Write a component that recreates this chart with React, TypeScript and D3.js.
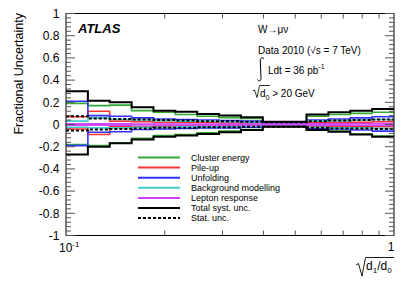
import React from 'react';
import * as d3 from 'd3';

// bin edges in sqrt(d1/d0), 15 log bins
const binEdges = [0.1, 0.1166, 0.1359, 0.1585, 0.1848, 0.2154, 0.2512, 0.2929, 0.3415, 0.3981, 0.4642, 0.5412, 0.631, 0.7356, 0.8577, 1.0];

const clusterUp = [0.19, 0.17, 0.175, 0.125, 0.11, 0.09, 0.075, 0.062, 0.055, 0.015, 0.015, 0.075, 0.09, 0.1, 0.11];
const clusterDn = [-0.18, -0.19, -0.165, -0.125, -0.1, -0.09, -0.075, -0.06, -0.045, -0.015, -0.015, -0.045, -0.06, -0.085, -0.105];
const pileupUp = [0.07, 0.12, 0.03, 0.025, 0.02, 0.02, 0.02, 0.015, 0.015, 0.01, 0.01, 0.015, 0.02, 0.02, 0.025];
const pileupDn = [-0.04, -0.09, -0.02, -0.02, -0.015, -0.015, -0.015, -0.01, -0.01, -0.01, -0.01, -0.015, -0.015, -0.02, -0.02];
const unfoldUp = [0.21, 0.08, 0.075, 0.06, 0.05, 0.045, 0.04, 0.035, 0.03, 0.015, 0.015, 0.04, 0.05, 0.06, 0.07];
const unfoldDn = [-0.19, -0.07, -0.065, -0.045, -0.04, -0.035, -0.03, -0.03, -0.025, -0.015, -0.015, -0.035, -0.04, -0.05, -0.06];
const bkgUp = [0.03, 0.06, 0.045, 0.04, 0.035, 0.03, 0.03, 0.025, 0.02, 0.01, 0.01, 0.03, 0.035, 0.04, 0.045];
const bkgDn = [-0.025, -0.03, -0.03, -0.025, -0.025, -0.02, -0.02, -0.02, -0.015, -0.01, -0.01, -0.025, -0.03, -0.03, -0.035];
const lepUp = [0.006, 0.006, 0.006, 0.005, 0.005, 0.005, 0.005, 0.005, 0.005, 0.004, 0.004, 0.006, 0.006, 0.007, 0.008];
const lepDn = [-0.006, -0.006, -0.006, -0.005, -0.005, -0.005, -0.005, -0.005, -0.005, -0.004, -0.004, -0.006, -0.006, -0.007, -0.008];
const totalUp = [0.3, 0.215, 0.2, 0.155, 0.125, 0.115, 0.095, 0.08, 0.065, 0.025, 0.025, 0.09, 0.11, 0.125, 0.14];
const totalDn = [-0.27, -0.2, -0.17, -0.135, -0.11, -0.1, -0.085, -0.07, -0.05, -0.02, -0.02, -0.05, -0.065, -0.09, -0.11];
const statUp = [0.075, 0.055, 0.05, 0.045, 0.04, 0.035, 0.03, 0.03, 0.025, 0.02, 0.02, 0.03, 0.035, 0.04, 0.045];
const statDn = [-0.055, -0.045, -0.04, -0.035, -0.03, -0.03, -0.025, -0.025, -0.02, -0.02, -0.02, -0.03, -0.035, -0.035, -0.04];

const legendLabels = ['Cluster energy', 'Pile-up', 'Unfolding', 'Background modelling', 'Lepton response', 'Total syst. unc.', 'Stat. unc.'];
const yTickValues = [-1, -0.8, -0.6, -0.4, -0.2, 0, 0.2, 0.4, 0.6, 0.8, 1];
const xMinorTicks = [0.2, 0.3, 0.4, 0.5, 0.6, 0.7, 0.8, 0.9];

const font = '"Liberation Sans", Arial, Helvetica, sans-serif';

const styles = [
  { up: clusterUp, dn: clusterDn, color: '#33aa33', width: 1.6, dash: null },
  { up: pileupUp, dn: pileupDn, color: '#ff3333', width: 1.6, dash: null },
  { up: unfoldUp, dn: unfoldDn, color: '#3333ff', width: 1.6, dash: null },
  { up: bkgUp, dn: bkgDn, color: '#44cccc', width: 1.6, dash: null },
  { up: lepUp, dn: lepDn, color: '#d040ff', width: 1.6, dash: null },
  { up: totalUp, dn: totalDn, color: '#000', width: 2, dash: null },
  { up: statUp, dn: statDn, color: '#000', width: 2, dash: '3,2' },
];

const App = () => {
  const width = 415;
  const height = 281;
  const left = 66, right = 394, top = 13.5, bottom = 235.5;

  const x = d3.scaleLog().domain([0.1, 1]).range([left, right]);
  const y = d3.scaleLinear().domain([-1, 1]).range([bottom, top]);

  const step = d3.line<[number, number]>()
    .x(d => x(d[0]))
    .y(d => y(d[1]))
    .curve(d3.curveStepAfter);

  const toPts = (vals: number[]): [number, number][] =>
    binEdges.map((e, i) => [e, vals[Math.min(i, vals.length - 1)]]);

  const yMinor = d3.range(-1, 1.0001, 0.04);

  return (
    <svg width={width} height={height} style={{ position: 'absolute', left: 0, top: 0, background: '#fff' }}
      fontFamily={font}>
      <rect x={0} y={0} width={width} height={height} fill="#fff" />

      {/* histograms */}
      {styles.map((s, i) => (
        <g key={i} fill="none" stroke={s.color} strokeWidth={s.width} strokeDasharray={s.dash || undefined}>
          <path d={step(toPts(s.up)) || ''} />
          <path d={step(toPts(s.dn)) || ''} />
        </g>
      ))}

      {/* frame */}
      <rect x={left} y={top} width={right - left} height={bottom - top} fill="none" stroke="#000" strokeWidth={1} />

      {/* y ticks both sides */}
      <g stroke="#555" strokeWidth={1}>
        {yMinor.map((v, i) => {
          const major = Math.abs(Math.round(v / 0.2) * 0.2 - v) < 1e-6;
          const len = major ? 9 : 5;
          const yy = y(v);
          return (
            <g key={i}>
              <line x1={left} x2={left + len} y1={yy} y2={yy} />
              <line x1={right} x2={right - len} y1={yy} y2={yy} />
            </g>
          );
        })}
        {xMinorTicks.map((v, i) => (
          <g key={i}>
            <line x1={x(v)} x2={x(v)} y1={bottom} y2={bottom - 5} />
            <line x1={x(v)} x2={x(v)} y1={top} y2={top + 5} />
          </g>
        ))}
      </g>

      {/* y tick labels */}
      <g fontSize={12} textAnchor="end" fill="#000">
        {yTickValues.map(v => (
          <text key={v} x={59.5} y={y(v) + 4.3}>{String(v)}</text>
        ))}
      </g>

      {/* x tick labels */}
      <text x={x(0.1) - 7} y={252} fontSize={12}>10<tspan fontSize={8} dy={-5}>-1</tspan></text>
      <text x={x(1) - 3} y={251} fontSize={12} textAnchor="middle">1</text>

      {/* y title */}
      <text transform="translate(23,13) rotate(-90)" textAnchor="end" fontSize={12.5}>Fractional Uncertainty</text>

      {/* x title: sqrt(d1/d0) */}
      <path d="M356,265 L358.5,263.5 L362,276 L365.5,257.5 L394,257.5" fill="none" stroke="#000" strokeWidth={0.9} />
      <text x={366} y={270} fontSize={12}>d<tspan fontSize={8} dy={3}>1</tspan><tspan dy={-3}>/d</tspan><tspan fontSize={8} dy={3}>0</tspan></text>

      {/* ATLAS label */}
      <text x={78} y={33} fontSize={13} fontWeight="bold" fontStyle="italic">ATLAS</text>

      {/* annotations */}
      <g fontSize={10} fill="#000">
        <text x={258} y={33}>W→μν</text>
        <text x={258} y={54}>Data 2010 (√s = 7 TeV)</text>
        <path d="M264,59 C262.5,56.5 260,58 260.3,61 L261,78 C261.2,81.5 258.5,81.5 257.5,79.5" fill="none" stroke="#000" strokeWidth={1} />
        <text x={268} y={74}>Ldt = 36 pb<tspan fontSize={7} dy={-5}>-1</tspan></text>
        <path d="M252.5,91 L254.5,90 L257,97.5 L259.5,85.5 L270,85.5" fill="none" stroke="#000" strokeWidth={0.8} />
        <text x={260} y={97}>d<tspan fontSize={7} dy={2.5}>0</tspan><tspan dy={-2.5}> &gt; 20 GeV</tspan></text>
      </g>

      {/* legend */}
      <g fontSize={9} fill="#000">
        {legendLabels.map((lab, i) => {
          const ly = 157.5 + i * 10.1;
          const s = styles[i];
          return (
            <g key={lab}>
              <line x1={138} x2={180} y1={ly} y2={ly} stroke={s.color} strokeWidth={2}
                strokeDasharray={s.dash || undefined} />
              <text x={191} y={ly + 3.3}>{lab}</text>
            </g>
          );
        })}
      </g>
    </svg>
  );
};

export default App;
